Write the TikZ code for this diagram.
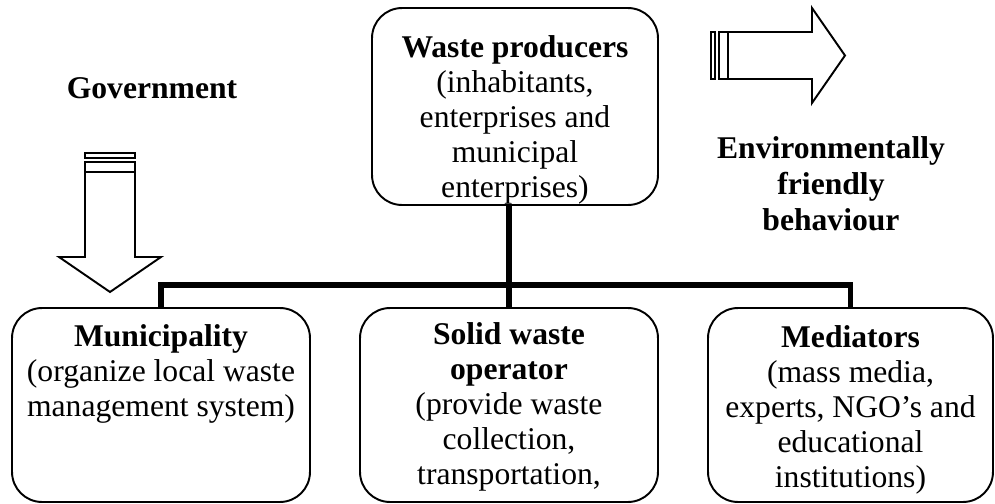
\documentclass[tikz,border=0pt]{standalone}
\usepackage{fontspec}
\setmainfont{Liberation Serif}
\usetikzlibrary{positioning}

\begin{document}
\begin{tikzpicture}[x=0.02cm, y=-0.02cm,
    box/.style    = {draw, line width=1.1pt, rounded corners=0.6cm,
                     minimum height=3.88cm},
    txt/.style    = {font=\fontsize{18}{20}\selectfont, align=center,
                     inner sep=0pt, anchor=north},
    lbl/.style    = {txt, font=\fontsize{18}{20.5}\selectfont\bfseries},
    bus/.style    = {line width=3.4pt},
    hollow/.style = {draw, line width=1.1pt, fill=white}
]
    \useasboundingbox (0,0) rectangle (995,504);
    \clip (0,0) rectangle (995,504);

    %-- Waste producers (top box) --------------------------------------------
    \node[box, minimum width=5.72cm, minimum height=3.94cm] (prod) at (515,106.5) {};
    \node[txt, below=0.56cm of prod.north] (prodtxt)
          {\textbf{Waste producers}\\(inhabitants,\\enterprises and\\municipal\\enterprises)};

    %-- Actors (bottom row, cut by the page edge) -----------------------------
    \node[box, minimum width=5.96cm] (muni) at (161,405) {};
    \node[box, minimum width=5.96cm] (oper) at (509,405) {};
    \node[box, minimum width=5.70cm] (medi) at (850.5,405) {};

    \node[txt, below=0.34cm of muni.north] (munitxt)
          {\textbf{Municipality}\\(organize local waste\\management system)};
    \node[txt, below=0.30cm of oper.north] (opertxt)
          {\textbf{Solid waste}\\\textbf{operator}\\(provide waste\\collection,\\transportation,};
    \node[txt, below=0.36cm of medi.north] (meditxt)
          {\textbf{Mediators}\\(mass media,\\experts, NGO’s and\\educational\\institutions)};

    %-- Thick tree: producers -> bus -> three actors --------------------------
    \coordinate (busy) at (0,285);
    \draw[bus] (muni.north) -- (muni.north |- busy) -- (medi.north |- busy) -- (medi.north);
    \draw[bus] (prod.south -| oper.north) -- (oper.north);

    %-- Government: hollow arrow pointing down -------------------------------
    \node[lbl] (gov) at (152,77) {Government};
    \draw[hollow] (85,153) rectangle (135,158);
    \draw[hollow] (85,162) rectangle (135,172);
    \draw[hollow] (85,172) -- (85,257) -- (59,257) -- (110,292)
                  -- (161,257) -- (135,257) -- (135,172) -- cycle;

    %-- Environmentally friendly behaviour: hollow arrow pointing right ------
    \draw[hollow] (711,32) rectangle (715,79);
    \draw[hollow] (719,32) rectangle (728,79);
    \draw[hollow] (728,32) -- (812,32) -- (812,8) -- (845,55.5)
                  -- (812,103) -- (812,79) -- (728,79) -- cycle;
    \node[lbl] (env) at (831,136) {Environmentally\\friendly\\behaviour};

\end{tikzpicture}
\end{document}
